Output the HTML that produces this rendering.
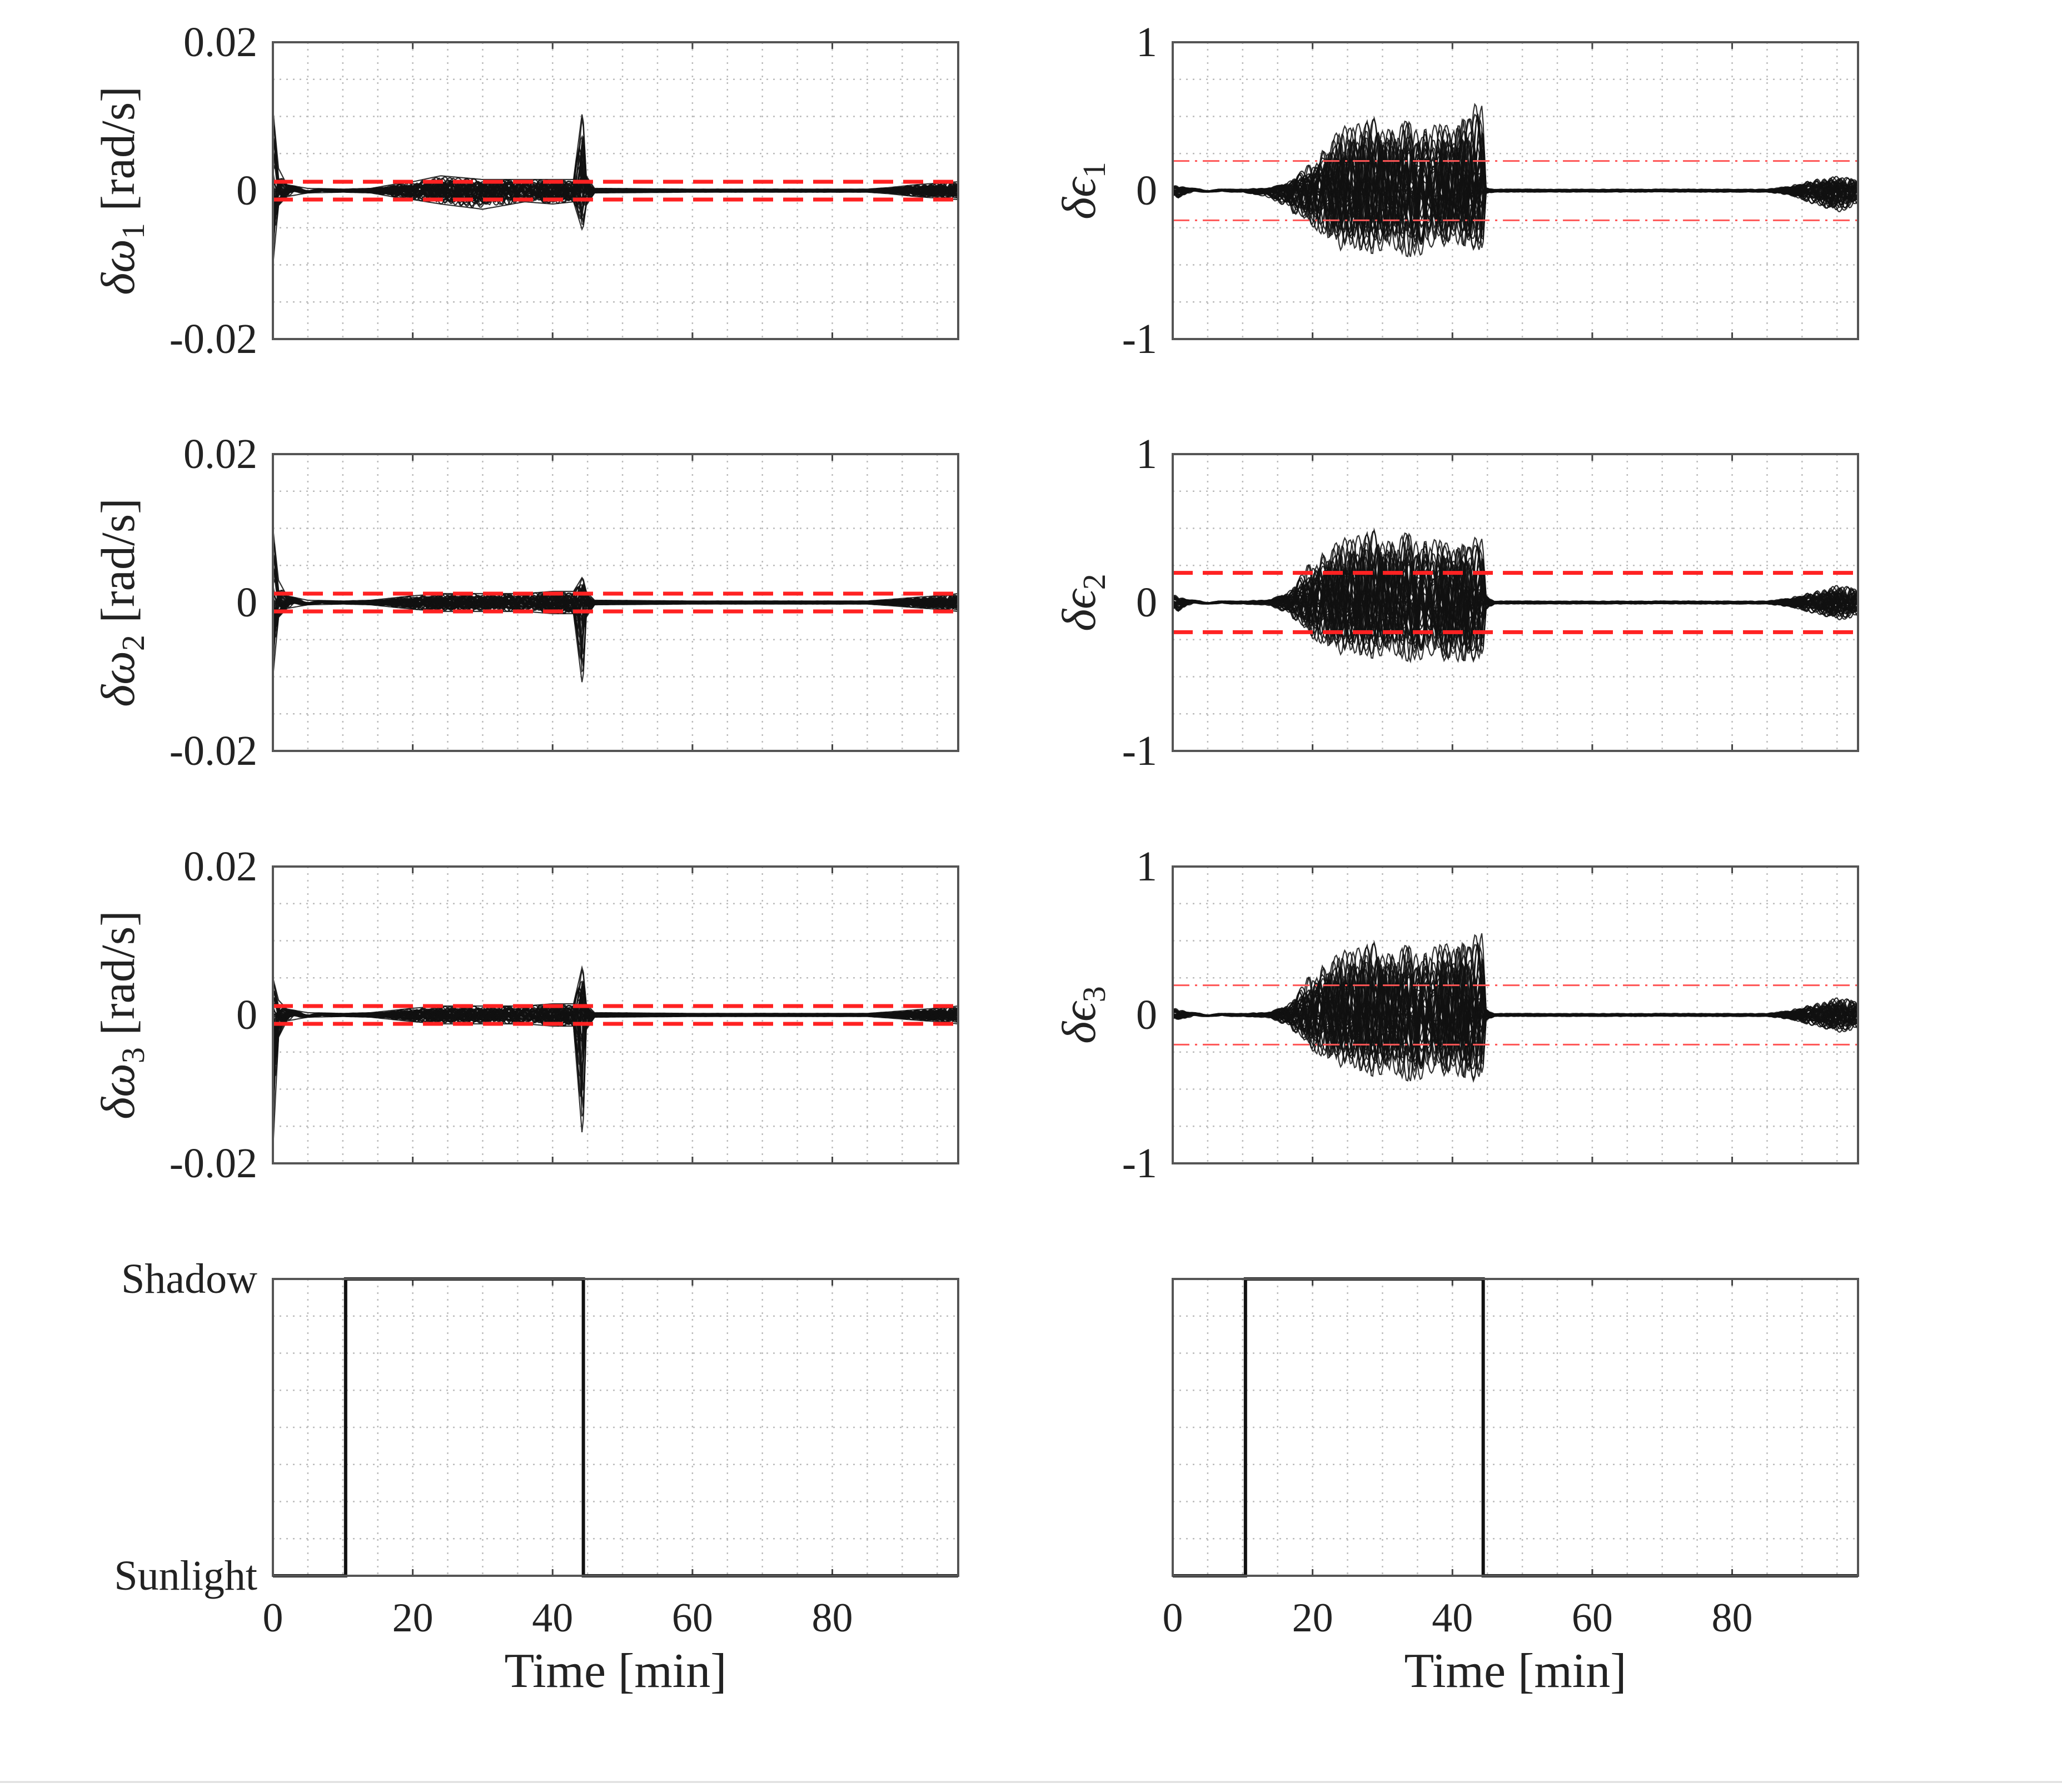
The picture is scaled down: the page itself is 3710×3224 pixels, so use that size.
<!DOCTYPE html>
<html><head><meta charset="utf-8">
<style>
html,body{margin:0;padding:0;background:#fff;}
svg{display:block;}
text{font-family:"Liberation Serif",serif;fill:#222;}
</style></head>
<body>
<svg id="fig" width="3710" height="3224" viewBox="0 0 3710 3224" xmlns="http://www.w3.org/2000/svg">
<line x1="0" y1="3206" x2="3710" y2="3206" stroke="#ddd" stroke-width="3"/>
</svg>
<script>
// ---- data ----
const xTicks = [0, 20, 40, 60, 80];
const xMax = 98;
const envT = [0, 0.8, 2, 5, 10, 14, 17, 20, 24, 30, 36, 40, 43, 44.3, 44.8, 46, 60, 85, 88, 92, 95, 98];
const w1Up  = [0.011,0.003,0.0008,0.0003,0.0002,0.0003,0.0008,0.0012,0.002,0.0015,0.0015,0.0015,0.0015,0.011,0.002,0.0003,0.0002,0.0002,0.0004,0.0008,0.001,0.0012];
const w1Low = [-0.010,-0.002,-0.0008,-0.0003,-0.0002,-0.0003,-0.0008,-0.0012,-0.0018,-0.0025,-0.0015,-0.0018,-0.0015,-0.0055,-0.002,-0.0003,-0.0002,-0.0002,-0.0004,-0.0008,-0.001,-0.0012];
const w2Up  = [0.010,0.003,0.0009,0.0003,0.0002,0.0003,0.0006,0.0009,0.0012,0.0012,0.0012,0.0015,0.0015,0.0035,0.0015,0.0003,0.0002,0.0002,0.0004,0.0007,0.0009,0.0012];
const w2Low = [-0.010,-0.002,-0.0008,-0.0003,-0.0002,-0.0003,-0.0006,-0.0009,-0.0012,-0.0012,-0.0012,-0.0015,-0.0015,-0.0115,-0.002,-0.0003,-0.0002,-0.0002,-0.0004,-0.0007,-0.0009,-0.0012];
const w3Up  = [0.005,0.002,0.0008,0.0003,0.0002,0.0003,0.0006,0.0009,0.0012,0.0012,0.0012,0.0015,0.0015,0.0068,0.0015,0.0003,0.0002,0.0002,0.0004,0.0007,0.0009,0.0012];
const w3Low = [-0.018,-0.003,-0.0008,-0.0003,-0.0002,-0.0003,-0.0006,-0.0009,-0.0012,-0.0012,-0.0012,-0.0015,-0.0015,-0.017,-0.002,-0.0003,-0.0002,-0.0002,-0.0004,-0.0007,-0.0009,-0.0012];
const e1Up  = [0.03,0.04,0.02,0.01,0.01,0.02,0.08,0.2,0.45,0.5,0.45,0.45,0.6,0.6,0.02,0.01,0.01,0.01,0.03,0.08,0.1,0.08];
const e1Low = [-0.04,-0.05,-0.02,-0.01,-0.01,-0.05,-0.15,-0.25,-0.4,-0.45,-0.45,-0.35,-0.4,-0.45,-0.02,-0.01,-0.01,-0.01,-0.03,-0.1,-0.15,-0.1];
const e2Up  = [0.05,0.05,0.02,0.01,0.01,0.02,0.1,0.3,0.45,0.5,0.45,0.4,0.45,0.45,0.05,0.01,0.01,0.01,0.03,0.08,0.12,0.1];
const e2Low = [-0.05,-0.06,-0.02,-0.01,-0.01,-0.02,-0.1,-0.25,-0.35,-0.4,-0.4,-0.4,-0.4,-0.4,-0.05,-0.01,-0.01,-0.01,-0.03,-0.08,-0.12,-0.1];
const e3Up  = [0.04,0.05,0.02,0.01,0.01,0.02,0.1,0.3,0.45,0.5,0.45,0.5,0.55,0.58,0.04,0.01,0.01,0.01,0.03,0.08,0.12,0.1];
const e3Low = [-0.03,-0.03,-0.02,-0.01,-0.01,-0.02,-0.1,-0.25,-0.35,-0.45,-0.45,-0.4,-0.45,-0.45,-0.04,-0.01,-0.01,-0.01,-0.03,-0.08,-0.12,-0.1];
const shadowT = [0, 10.4, 10.4, 44.4, 44.4, 98];
const shadowV = [0, 0, 1, 1, 0, 0];
const omegaTicks = ["0.02", "0", "-0.02"];
const epsTicks = ["1", "0", "-1"];

// ---- layout ----
const NS = "http://www.w3.org/2000/svg";
const svg = document.getElementById("fig");
const colX = [491, 2110];
const plotW = 1233;
const rowY = [76, 817, 1559, 2301];
const plotH = 534;

function mk(tag, attrs, parent) {
  const e = document.createElementNS(NS, tag);
  for (const k in attrs) e.setAttribute(k, attrs[k]);
  (parent || svg).appendChild(e);
  return e;
}
function interp(t, ts, vs) {
  if (t <= ts[0]) return vs[0];
  for (let i = 1; i < ts.length; i++) {
    if (t <= ts[i]) { const f = (t - ts[i-1]) / (ts[i] - ts[i-1] || 1); return vs[i-1] + f * (vs[i] - vs[i-1]); }
  }
  return vs[vs.length - 1];
}
function frac(x) { return x - Math.floor(x); }

function panel(name, cx, cy, yMin, yMax, yLabels, ylabelText, sub, redLvl, redStyle, up, low, isShadow, showX, outline) {
  const g = mk("g", {});
  
  
  const xs = t => cx + t / xMax * plotW;
  const ys = v => cy + (yMax - v) / (yMax - yMin) * plotH;
  const grid = mk("g", {stroke: "#bbb", "stroke-width": 2.5, "stroke-dasharray": "3 9"}, g);
  
  
  for (let t = 5; t < xMax; t += 5) mk("line", {x1: xs(t), x2: xs(t), y1: cy, y2: cy + plotH}, grid);
  for (let i = 1; i < 8; i++) mk("line", {x1: cx, x2: cx + plotW, y1: cy + i * plotH / 8, y2: cy + i * plotH / 8}, grid);
  xTicks.forEach(t => {
    mk("line", {x1: xs(t), x2: xs(t), y1: cy, y2: cy + 12, stroke: "#444", "stroke-width": 3}, g);
    mk("line", {x1: xs(t), x2: xs(t), y1: cy + plotH, y2: cy + plotH - 12, stroke: "#444", "stroke-width": 3}, g);
    if (showX) {
      const tl = mk("text", {x: xs(t), y: cy + plotH + 100, "font-size": 74, "text-anchor": "middle"}, g);
      tl.textContent = t;
      
      
    }
  });
  if (showX) {
    const xl = mk("text", {x: cx + plotW / 2, y: cy + plotH + 200, "font-size": 88, "text-anchor": "middle"}, g);
    xl.textContent = "Time [min]";
    
    
  }
  yLabels.forEach((lab, i) => {
    const yy = cy + i * plotH / (yLabels.length - 1);
    const tl = mk("text", {x: cx - 28, y: yy + 25, "font-size": 76, "text-anchor": "end"}, g);
    tl.textContent = lab;
    
    
  });
  if (ylabelText) {
    const lx = ylabelText.length > 3 ? cx - 250 : cx - 140;
    const yl = mk("text", {x: lx, y: cy + plotH / 2, "font-size": 86, "text-anchor": "middle", transform: `rotate(-90 ${lx} ${cy + plotH / 2})`}, g);
    const a = mk("tspan", {"font-style": "italic"}, yl); a.textContent = ylabelText.split("|")[0];
    const b = mk("tspan", {"font-size": 58, dy: 18}, yl); b.textContent = sub;
    const c = mk("tspan", {dy: -18}, yl); c.textContent = ylabelText.split("|")[1] || "";
    
    
  }
  if (isShadow) {
    const pts = shadowT.map((t, i) => xs(t) + "," + ys(shadowV[i])).join(" ");
    const pl = mk("polyline", {points: pts, fill: "none", stroke: "#111", "stroke-width": 6}, g);
    
    
  } else {
    const traces = mk("g", {fill: "none", stroke: "#111", "stroke-width": 2.2, "stroke-opacity": 0.85}, g);
    
    
    const N = 44;
    const total = outline ? N + 2 : N;
    for (let k = 0; k < total; k++) {
      let d = "";
      const a1 = 0.9 + frac(k * 0.6180339) * 1.3;
      const a2 = 1.6 + frac(k * 0.4142135 + 0.3) * 1.6;
      const a3 = 0.35 + frac(k * 0.7320508 + 0.1) * 0.5;
      const p1 = frac(k * 0.3819660) * 6.283, p2 = frac(k * 0.2360679 + 0.5) * 6.283, p3 = frac(k * 0.1715729) * 6.283;
      for (let t = 0; t <= xMax + 0.001; t += 0.2) {
        let s;
        if (k === N) s = 1; else if (k === N + 1) s = -1;
        else s = 0.5 * Math.sin(a1 * t + p1) + 0.3 * Math.sin(a2 * t + p2) + 0.2 * Math.sin(a3 * t + p3);
        const u = interp(t, envT, up), l = interp(t, envT, low);
        const v = s >= 0 ? s * u : -s * l;
        d += (d ? "L" : "M") + xs(t).toFixed(1) + "," + ys(v).toFixed(1);
      }
      const p = mk("path", {d: d}, traces);
      
      
    }
    [redLvl, -redLvl].forEach(v => {
      const attrs = redStyle === "thick"
        ? {stroke: "#f22", "stroke-width": 7, "stroke-dasharray": "36 18"}
        : {stroke: "#f55", "stroke-width": 3, "stroke-dasharray": "30 10 4 10"};
      const rl = mk("line", Object.assign({x1: cx, x2: cx + plotW, y1: ys(v), y2: ys(v)}, attrs), g);
      
      
    });
  }
  const fr = mk("rect", {x: cx, y: cy, width: plotW, height: plotH, fill: "none", stroke: "#555", "stroke-width": 4}, g);
  
  
}

panel("omega1-plot", colX[0], rowY[0], -0.02, 0.02, omegaTicks, "δω| [rad/s]", "1", 0.0012, "thick", w1Up, w1Low, false, false, true);
panel("omega2-plot", colX[0], rowY[1], -0.02, 0.02, omegaTicks, "δω| [rad/s]", "2", 0.0012, "thick", w2Up, w2Low, false, false, true);
panel("omega3-plot", colX[0], rowY[2], -0.02, 0.02, omegaTicks, "δω| [rad/s]", "3", 0.0012, "thick", w3Up, w3Low, false, false, true);
panel("eps1-plot", colX[1], rowY[0], -1, 1, epsTicks, "δϵ|", "1", 0.2, "thin", e1Up, e1Low, false, false, false);
panel("eps2-plot", colX[1], rowY[1], -1, 1, epsTicks, "δϵ|", "2", 0.2, "thick", e2Up, e2Low, false, false, false);
panel("eps3-plot", colX[1], rowY[2], -1, 1, epsTicks, "δϵ|", "3", 0.2, "thin", e3Up, e3Low, false, false, false);
panel("shadow-plot-left", colX[0], rowY[3], 0, 1, ["Shadow", "Sunlight"], null, "", 0, "", null, null, true, true, false);
panel("shadow-plot-right", colX[1], rowY[3], 0, 1, [], null, "", 0, "", null, null, true, true, false);
</script>
</body></html>
